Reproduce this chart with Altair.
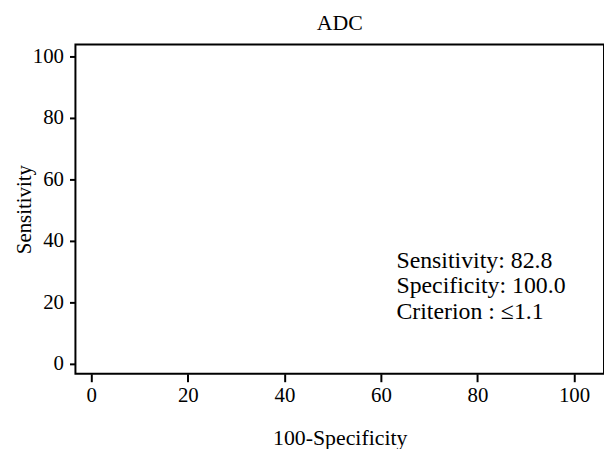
import altair as alt
import pandas as pd

title = "ADC"
tick_values = [0, 20, 40, 60, 80, 100]
ann_text = ["Sensitivity: 82.8", "Specificity: 100.0", "Criterion : \u22641.1"]
ann_x = [63.2, 63.2, 63.2]
ann_y = [33.5, 25.2, 16.8]

df = pd.DataFrame({"x": ann_x, "y": ann_y, "t": ann_text})

FONT = "Liberation Serif"

chart = alt.Chart(df).mark_text(
    align="left", baseline="middle", font=FONT, fontSize=24, color="black"
).encode(
    x=alt.X("x:Q", scale=alt.Scale(domain=[-3.29, 106.2], nice=False, zero=False),
            axis=alt.Axis(values=tick_values, title="100-Specificity", domain=False,
                          grid=False, tickColor="black", tickWidth=2, tickSize=8,
                          labelFont=FONT, labelFontSize=21, labelColor="black",
                          labelPadding=3, titleFont=FONT, titleFontSize=22,
                          titleFontWeight="normal", titleColor="black", titlePadding=22)),
    y=alt.Y("y:Q", scale=alt.Scale(domain=[-3.2, 103.9], nice=False, zero=False),
            axis=alt.Axis(values=tick_values, title="Sensitivity", domain=False,
                          grid=False, tickColor="black", tickWidth=2, tickSize=6,
                          labelFont=FONT, labelFontSize=21, labelColor="black",
                          labelPadding=6, titleFont=FONT, titleFontSize=21,
                          titleFontWeight="normal", titleColor="black",
                          titleX=-51, titleBaseline="middle")),
    text="t:N",
).properties(
    width=533, height=332,
    title=alt.TitleParams(title, font=FONT, fontSize=22, fontWeight="normal",
                          color="black", offset=10),
    autosize=alt.AutoSizeParams(type="none"),
    padding={"left": 68, "top": 35, "right": 0, "bottom": 74},
).configure_view(stroke="black", strokeWidth=2)

chart.save("out.html", embed_options={"renderer": "svg", "actions": False})
